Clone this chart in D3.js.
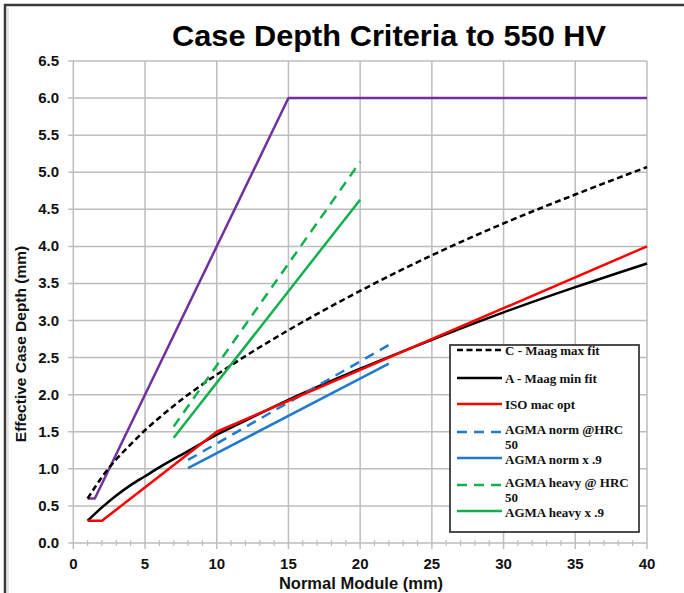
<!DOCTYPE html>
<html>
<head>
<meta charset="utf-8">
<script src="https://cdn.jsdelivr.net/npm/d3@7"></script>
<style>
  html, body { margin: 0; padding: 0; background: #fff; }
  svg { display: block; }
</style>
</head>
<body>
<svg id="chart" width="684" height="593"></svg>
<script>
// ---- data ----
const title = "Case Depth Criteria to 550 HV";
const xTicks = [0, 5, 10, 15, 20, 25, 30, 35, 40];
const yTicks = [0.0, 0.5, 1.0, 1.5, 2.0, 2.5, 3.0, 3.5, 4.0, 4.5, 5.0, 5.5, 6.0, 6.5];

const maagMaxX = [1, 2, 3, 4, 5, 6, 8, 10, 12, 15, 20, 25, 30, 35, 40];
const maagMaxY = [0.60, 0.89, 1.13, 1.33, 1.52, 1.69, 2.00, 2.27, 2.52, 2.87, 3.40, 3.88, 4.31, 4.70, 5.07];

const maagMinX = [1, 2, 3, 4, 5, 6, 8, 10, 12, 15, 20, 25, 30, 35, 40];
const maagMinY = [0.30, 0.48, 0.64, 0.78, 0.90, 1.02, 1.24, 1.46, 1.65, 1.93, 2.35, 2.74, 3.11, 3.45, 3.77];

const isoX = [1, 2, 10, 40];
const isoY = [0.30, 0.30, 1.50, 4.00];

const agmaNormX = [8, 22];
const agmaNormY = [1.12, 2.67];
const agmaNorm9X = [8, 22];
const agmaNorm9Y = [1.01, 2.42];

const agmaHeavyX = [7, 20];
const agmaHeavyY = [1.57, 5.14];
const agmaHeavy9X = [7, 20];
const agmaHeavy9Y = [1.42, 4.63];

const purpleX = [1, 1.5, 15, 40];
const purpleY = [0.6, 0.6, 6.0, 6.0];

const seriesNames = ["C - Maag max fit", "A - Maag min fit", "ISO mac opt",
  "AGMA norm @HRC 50", "AGMA norm x .9", "AGMA heavy @ HRC 50", "AGMA heavy x .9"];

function zip(xs, ys) { return xs.map((x, i) => [x, ys[i]]); }

const series = [
  { name: seriesNames[0], pts: zip(maagMaxX, maagMaxY), color: "#000000", dash: "6,3.5", smooth: true, legend: true },
  { name: seriesNames[1], pts: zip(maagMinX, maagMinY), color: "#000000", dash: null, smooth: true, legend: true },
  { name: seriesNames[2], pts: zip(isoX, isoY), color: "#ff0000", dash: null, smooth: false, legend: true },
  { name: seriesNames[3], pts: zip(agmaNormX, agmaNormY), color: "#1f7ad0", dash: "10,7", smooth: false, legend: true },
  { name: seriesNames[4], pts: zip(agmaNorm9X, agmaNorm9Y), color: "#1f7ad0", dash: null, smooth: false, legend: true },
  { name: seriesNames[5], pts: zip(agmaHeavyX, agmaHeavyY), color: "#12b04c", dash: "10,7", smooth: false, legend: true },
  { name: seriesNames[6], pts: zip(agmaHeavy9X, agmaHeavy9Y), color: "#12b04c", dash: null, smooth: false, legend: true },
  { name: "limit", pts: zip(purpleX, purpleY), color: "#7030a0", dash: null, smooth: false, legend: false }
];

// ---- layout ----
const svg = d3.select("#chart");
const W = 684, H = 593;
const x = d3.scaleLinear().domain([0, 40]).range([73.3, 647]);
const y = d3.scaleLinear().domain([0, 6.5]).range([543, 61]);
const gridColor = "#bdbdbd";
const sans = "Liberation Sans, Arial, sans-serif";

// frame
svg.append("path")
  .attr("d", `M5,${H} L5,5 L${W},5`)
  .attr("fill", "none").attr("stroke", "#3a3a3a").attr("stroke-width", 2.5);
svg.append("line").attr("x1", 8).attr("x2", 8).attr("y1", 8).attr("y2", H)
  .attr("stroke", "#cfcfcf").attr("stroke-width", 1);

// title
svg.append("text").attr("x", 389).attr("y", 46)
  .attr("text-anchor", "middle")
  .attr("font-family", sans)
  .attr("font-weight", "bold").attr("font-size", 30)
  .attr("textLength", 434).attr("lengthAdjust", "spacingAndGlyphs")
  .text(title);

// gridlines
const g = svg.append("g");
g.selectAll(".hgrid").data(yTicks).join("line")
  .attr("x1", x(0) - 5).attr("x2", x(40))
  .attr("y1", d => y(d)).attr("y2", d => y(d))
  .attr("stroke", gridColor).attr("stroke-width", 1.5);
g.selectAll(".vgrid").data(xTicks).join("line")
  .attr("x1", d => x(d)).attr("x2", d => x(d))
  .attr("y1", y(6.5)).attr("y2", y(0) + 6)
  .attr("stroke", gridColor).attr("stroke-width", 1.5);
// minor x ticks
g.selectAll(".minor").data(d3.range(0, 41).filter(d => d % 5 !== 0)).join("line")
  .attr("x1", d => x(d)).attr("x2", d => x(d))
  .attr("y1", y(0) - 3).attr("y2", y(0) + 3)
  .attr("stroke", gridColor).attr("stroke-width", 1.2);

// tick labels
svg.selectAll(".ylab").data(yTicks).join("text")
  .attr("x", 59).attr("y", d => y(d) + 5)
  .attr("text-anchor", "end")
  .attr("font-family", sans)
  .attr("font-weight", "bold").attr("font-size", 15).attr("fill", "#111")
  .text(d => d3.format(".1f")(d));
svg.selectAll(".xlab").data(xTicks).join("text")
  .attr("x", d => x(d)).attr("y", 569)
  .attr("text-anchor", "middle")
  .attr("font-family", sans)
  .attr("font-weight", "bold").attr("font-size", 15).attr("fill", "#111")
  .text(d => d);

// axis titles
svg.append("text").attr("x", 361).attr("y", 589)
  .attr("text-anchor", "middle")
  .attr("font-family", sans)
  .attr("font-weight", "bold").attr("font-size", 16.5).attr("fill", "#111")
  .text("Normal Module (mm)");
svg.append("text")
  .attr("transform", "translate(26,344) rotate(-90)")
  .attr("text-anchor", "middle")
  .attr("font-family", sans)
  .attr("font-weight", "bold").attr("font-size", 15.5).attr("fill", "#111")
  .text("Effective Case Depth (mm)");

// lines
const lineSmooth = d3.line().x(d => x(d[0])).y(d => y(d[1])).curve(d3.curveMonotoneX);
const lineStraight = d3.line().x(d => x(d[0])).y(d => y(d[1]));
const order = [7, 0, 1, 5, 6, 3, 4, 2];
order.forEach(i => {
  const s = series[i];
  svg.append("path").datum(s.pts)
    .attr("d", s.smooth ? lineSmooth : lineStraight)
    .attr("fill", "none")
    .attr("stroke", s.color)
    .attr("stroke-width", 2.5)
    .attr("stroke-dasharray", s.dash)
    .attr("stroke-linejoin", "round");
});

// legend
const lg = svg.append("g");
lg.append("rect").attr("x", 450).attr("y", 345).attr("width", 189).attr("height", 187)
  .attr("fill", "#fff").attr("stroke", "#3a3a3a").attr("stroke-width", 1.8);
const legY = [350, 378, 404, 432, 458, 485, 511];
let prevWrapped = false;
series.filter(s => s.legend).forEach((s, i) => {
  const yy = legY[i];
  lg.append("line").attr("x1", 457).attr("x2", 502).attr("y1", yy).attr("y2", yy)
    .attr("stroke", s.color).attr("stroke-width", 2.5)
    .attr("stroke-dasharray", s.dash);
  const wrapped = s.name.endsWith(" 50");
  const parts = wrapped ? [s.name.slice(0, -3), "50"] : [s.name];
  const base = wrapped ? yy + 1.5 : (prevWrapped ? yy + 6 : yy + 5);
  const t = lg.append("text").attr("x", 505).attr("y", base)
    .attr("font-family", "Liberation Serif, Times New Roman, serif")
    .attr("font-weight", "bold").attr("font-size", 13).attr("fill", "#111");
  parts.forEach((p, j) => {
    t.append("tspan").attr("x", 505).attr("dy", j === 0 ? 0 : 15).text(p);
  });
  prevWrapped = wrapped;
});
</script>
</body>
</html>
